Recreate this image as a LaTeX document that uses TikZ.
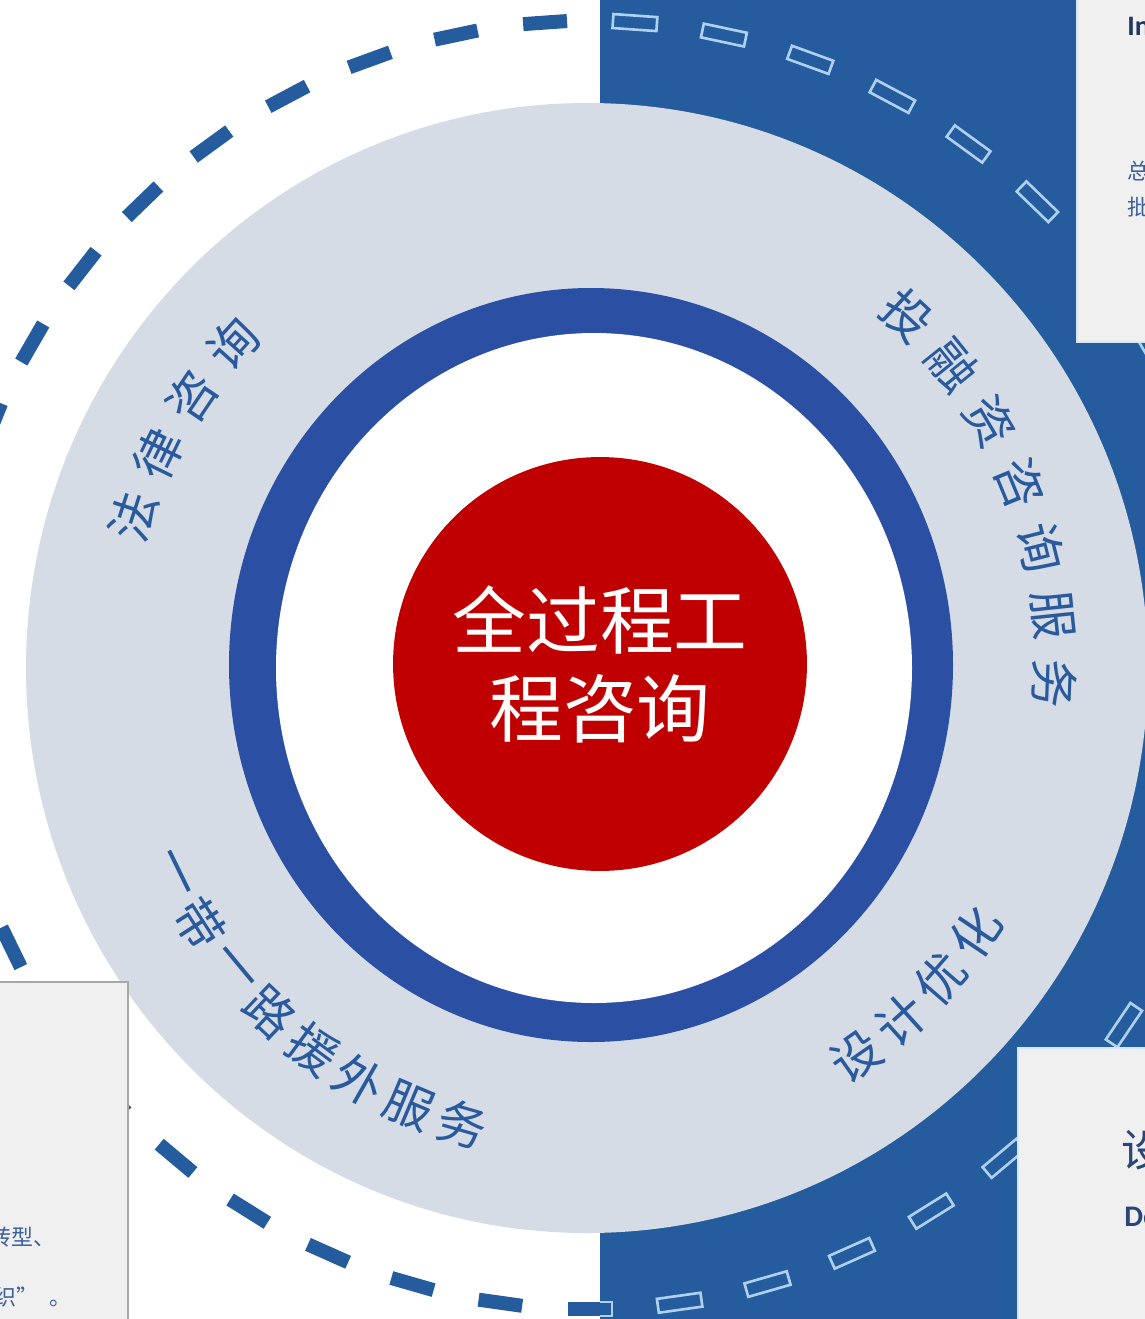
\documentclass[tikz,border=0pt]{standalone}
\usepackage{fontspec}
\setmainfont{Noto Sans CJK SC}
\newfontfamily\latinfont{Carlito}
\usepackage{tikz}

\definecolor{panelblue}{RGB}{36,92,158}
\definecolor{ringblue}{RGB}{43,80,163}
\definecolor{discgray}{RGB}{214,220,230}
\definecolor{corered}{RGB}{192,0,0}
\definecolor{arcblue}{RGB}{42,90,158}
\definecolor{dashedge}{RGB}{175,208,240}
\definecolor{boxfill}{RGB}{240,240,240}
\definecolor{boxedge}{RGB}{168,168,168}
\definecolor{boxtext}{RGB}{60,96,156}
\definecolor{titleblue}{RGB}{40,70,120}

\begin{document}
\begin{tikzpicture}[x=0.02cm,y=0.02cm,
    arclabel/.style={text=arcblue,inner sep=0pt,font=\fontsize{28}{28}\selectfont},
    smalltext/.style={text=boxtext,inner sep=0pt,anchor=west,font=\fontsize{12.5}{15}\selectfont}]
    \useasboundingbox (0,0) rectangle (1145,-1319);
    \clip (0,0) rectangle (1145,-1319);

    % blue panel
    \fill[panelblue] (600,0) rectangle (1145,-1319);
    \coordinate (c) at (590,-665);

    % outer dashed ring
    \begin{scope}
        \clip (0,0) rectangle (600,-1319);
        \foreach \a in {6,14,...,358}
            \fill[panelblue,shift={(c)},rotate=\a] (637,-22) rectangle (651,22);
    \end{scope}
    \begin{scope}
        \clip (600,0) rectangle (1145,-1319);
        \foreach \a in {6,14,...,358}
            \draw[dashedge,line width=1.5pt,shift={(c)},rotate=\a] (637,-22) rectangle (651,22);
    \end{scope}

    % gray disc
    \fill[discgray] (587,-668) ellipse [x radius=561,y radius=565];

    % blue ring
    \fill[ringblue] (591,-665) ellipse [x radius=362,y radius=377];
    \fill[white] (594,-668) ellipse [x radius=318,y radius=335];

    % centre
    \node[circle,fill=corered,minimum size=8.28cm,inner sep=0pt,text=white,align=center,
        font=\fontsize{42}{50}\selectfont] (core) at (600,-664) {全过程工\\程咨询};

    % ring labels
    \foreach \ch [count=\i, evaluate=\i as \a using 170-8*\i] in {法,律,咨,询}
        \node[arclabel,rotate=\a-90] (law\i) at ([shift={(c)}]\a:480) {\ch};
    \foreach \ch [count=\i, evaluate=\i as \a using 55.2-8.2*\i] in {投,融,资,咨,询,服,务}
        \node[arclabel,rotate=\a-90] (inv\i) at ([shift={(c)}]\a:465 and 478) {\ch};
    \foreach \ch [count=\i, evaluate=\i as \a using -62+7*\i] in {设,计,优,化}
        \node[arclabel,rotate=\a+90] (des\i) at ([shift={(c)}]\a:465 and 478) {\ch};
    \foreach \ch [count=\i, evaluate=\i as \a using 199.14+6.86*\i] in {一,带,一,路,援,外,服,务}
        \node[arclabel,rotate=\a+90] (belt\i) at ([shift={(c)}]\a:465 and 478) {\ch};

    % side boxes
    \filldraw[fill=boxfill,draw=dashedge!50!white,line width=1.2pt] (1077,5) rectangle (1150,-342);
    \node[anchor=west,inner sep=0pt,text=titleblue!80!black,font=\latinfont\bfseries\fontsize{16}{16}\selectfont] (invtitle) at (1127,-26) {In};
    \node[smalltext] (invline1) at (1127,-171) {总};
    \node[smalltext] (invline2) at (1127,-207) {批};

    \filldraw[fill=boxfill,draw=dashedge!50!white,line width=1.2pt] (1018,-1048) rectangle (1150,-1325);
    \node[anchor=west,inner sep=0pt,text=titleblue,font=\fontsize{25}{25}\selectfont] (destitle) at (1121,-1150) {设};
    \node[anchor=west,inner sep=0pt,text=titleblue,font=\latinfont\bfseries\fontsize{17}{17}\selectfont] (deseng) at (1124,-1217) {De};

    \filldraw[fill=boxfill,draw=boxedge,line width=0.9pt] (-5,-982) rectangle (128,-1325);
    \node[smalltext] (beltline1) at (-11,-1237) {转型、};
    \node[smalltext] (beltline2) at (-6,-1297) {织”\hspace{0.5em}。};
\end{tikzpicture}
\end{document}
